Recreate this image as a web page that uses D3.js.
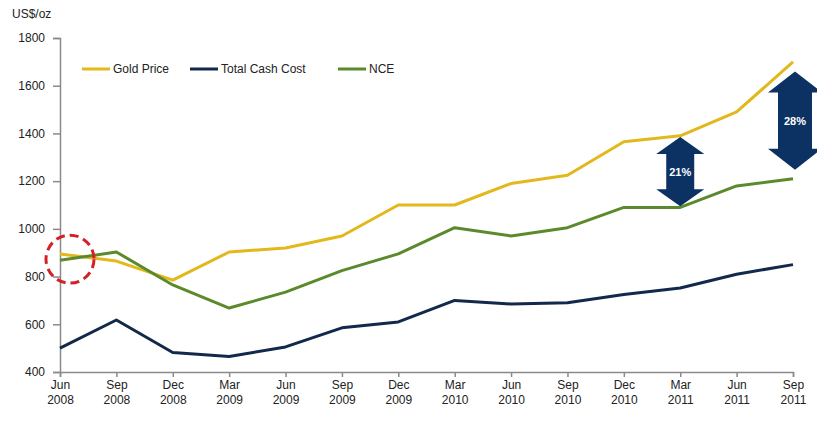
<!DOCTYPE html>
<html>
<head>
<meta charset="utf-8">
<script src="https://cdn.jsdelivr.net/npm/d3@7"></script>
<style>
  body { margin: 0; background: #fff; }
  svg text { font-family: "Liberation Sans", Arial, sans-serif; fill: #222; }
</style>
</head>
<body>
<div id="chart"></div>
<script>
// quarters on the x axis
const quarters = ["Jun 2008", "Sep 2008", "Dec 2008", "Mar 2009", "Jun 2009", "Sep 2009", "Dec 2009",
                  "Mar 2010", "Jun 2010", "Sep 2010", "Dec 2010", "Mar 2011", "Jun 2011", "Sep 2011"];

// series values, US$/oz
const goldPrice = [895, 865, 785, 903, 920, 970, 1100, 1100, 1190, 1225, 1365, 1390, 1490, 1700];
const cashCost  = [500, 618, 482, 465, 505, 585, 610, 700, 685, 690, 725, 752, 810, 850];
const nce       = [868, 903, 765, 668, 735, 825, 895, 1005, 970, 1005, 1090, 1090, 1180, 1210];

const yTicks = [400, 600, 800, 1000, 1200, 1400, 1600, 1800];

// double arrows: quarter, top value, bottom value, label
const arrows = [
  { q: "Mar 2011", top: 1385, bottom: 1095, label: "21%", big: false },
  { q: "Sep 2011", top: 1660, bottom: 1248, label: "28%", big: true }
];

const width = 817, height = 421;
const margin = { top: 38, right: 24, bottom: 49, left: 60 };

const svg = d3.select("#chart")
  .append("svg")
  .attr("width", width)
  .attr("height", height);

const xScale = d3.scalePoint()
  .domain(quarters)
  .range([margin.left, width - margin.right]);

const yScale = d3.scaleLinear()
  .domain([400, 1800])
  .range([height - margin.bottom, margin.top]);

// y axis
const yAxis = svg.append("g")
  .attr("transform", `translate(${margin.left},0)`)
  .call(d3.axisLeft(yScale).tickValues(yTicks).tickFormat(d3.format("d")).tickSize(7).tickPadding(8));
yAxis.selectAll("text").attr("font-size", "12px");

// x axis
const xAxis = svg.append("g")
  .attr("transform", `translate(0,${height - margin.bottom})`)
  .call(d3.axisBottom(xScale).tickSize(5).tickPadding(4).tickFormat(""));

xAxis.selectAll(".tick").each(function(d) {
  const parts = d.split(" ");
  const t = d3.select(this).append("text")
    .attr("text-anchor", "middle")
    .attr("font-size", "12px")
    .attr("y", 17);
  t.append("tspan").attr("x", 0).text(parts[0]);
  t.append("tspan").attr("x", 0).attr("dy", 15).text(parts[1]);
});

svg.selectAll(".domain, .tick line")
  .attr("stroke", "#8a8a8a")
  .attr("stroke-width", 1.5);

// series lines
const series = [
  { name: "Gold Price", values: goldPrice, color: "#e3b81c" },
  { name: "Total Cash Cost", values: cashCost, color: "#13294b" },
  { name: "NCE", values: nce, color: "#5b8a2c" }
];

const line = d3.line()
  .x((d, i) => xScale(quarters[i]))
  .y(d => yScale(d));

svg.selectAll(".series")
  .data(series)
  .enter()
  .append("path")
    .attr("class", "series")
    .attr("d", d => line(d.values))
    .attr("fill", "none")
    .attr("stroke", d => d.color)
    .attr("stroke-width", 3)
    .attr("stroke-linejoin", "round");

// double arrows
arrows.forEach(a => {
  const cx = xScale(a.q) + (a.big ? 2 : 0);
  const y0 = yScale(a.top), y1 = yScale(a.bottom);
  const hw = a.big ? 27 : 24, sw = a.big ? 17 : 14, hh = a.big ? 21 : 17;
  const pts = [
    [cx, y0], [cx + hw, y0 + hh], [cx + sw, y0 + hh], [cx + sw, y1 - hh], [cx + hw, y1 - hh],
    [cx, y1], [cx - hw, y1 - hh], [cx - sw, y1 - hh], [cx - sw, y0 + hh], [cx - hw, y0 + hh]
  ];
  svg.append("polygon")
    .attr("points", pts.map(p => p.join(",")).join(" "))
    .attr("fill", "#0c3263");
  svg.append("text")
    .attr("x", cx)
    .attr("y", (y0 + y1) / 2 + 4)
    .attr("text-anchor", "middle")
    .attr("font-size", "11px")
    .attr("font-weight", "bold")
    .style("fill", "#fff")
    .text(a.label);
});

// dashed red circle around the first quarter
svg.append("circle")
  .attr("cx", xScale(quarters[0]) + 10)
  .attr("cy", yScale((goldPrice[0] + nce[0]) / 2) + 2)
  .attr("r", 24)
  .attr("fill", "none")
  .attr("stroke", "#d42027")
  .attr("stroke-width", 3)
  .attr("stroke-dasharray", "9,5");

// legend
const legendX = [82, 190, 338];
const legend = svg.selectAll(".legend")
  .data(series)
  .enter()
  .append("g")
    .attr("class", "legend")
    .attr("transform", (d, i) => `translate(${legendX[i]},69)`);
legend.append("line")
  .attr("x1", 0).attr("x2", 28)
  .attr("stroke", d => d.color)
  .attr("stroke-width", 3);
legend.append("text")
  .attr("x", 31)
  .attr("y", 4)
  .attr("font-size", "12px")
  .text(d => d.name);

// unit label
svg.append("text")
  .attr("x", 12)
  .attr("y", 18)
  .attr("font-size", "12px")
  .text("US$/oz");
</script>
</body>
</html>
